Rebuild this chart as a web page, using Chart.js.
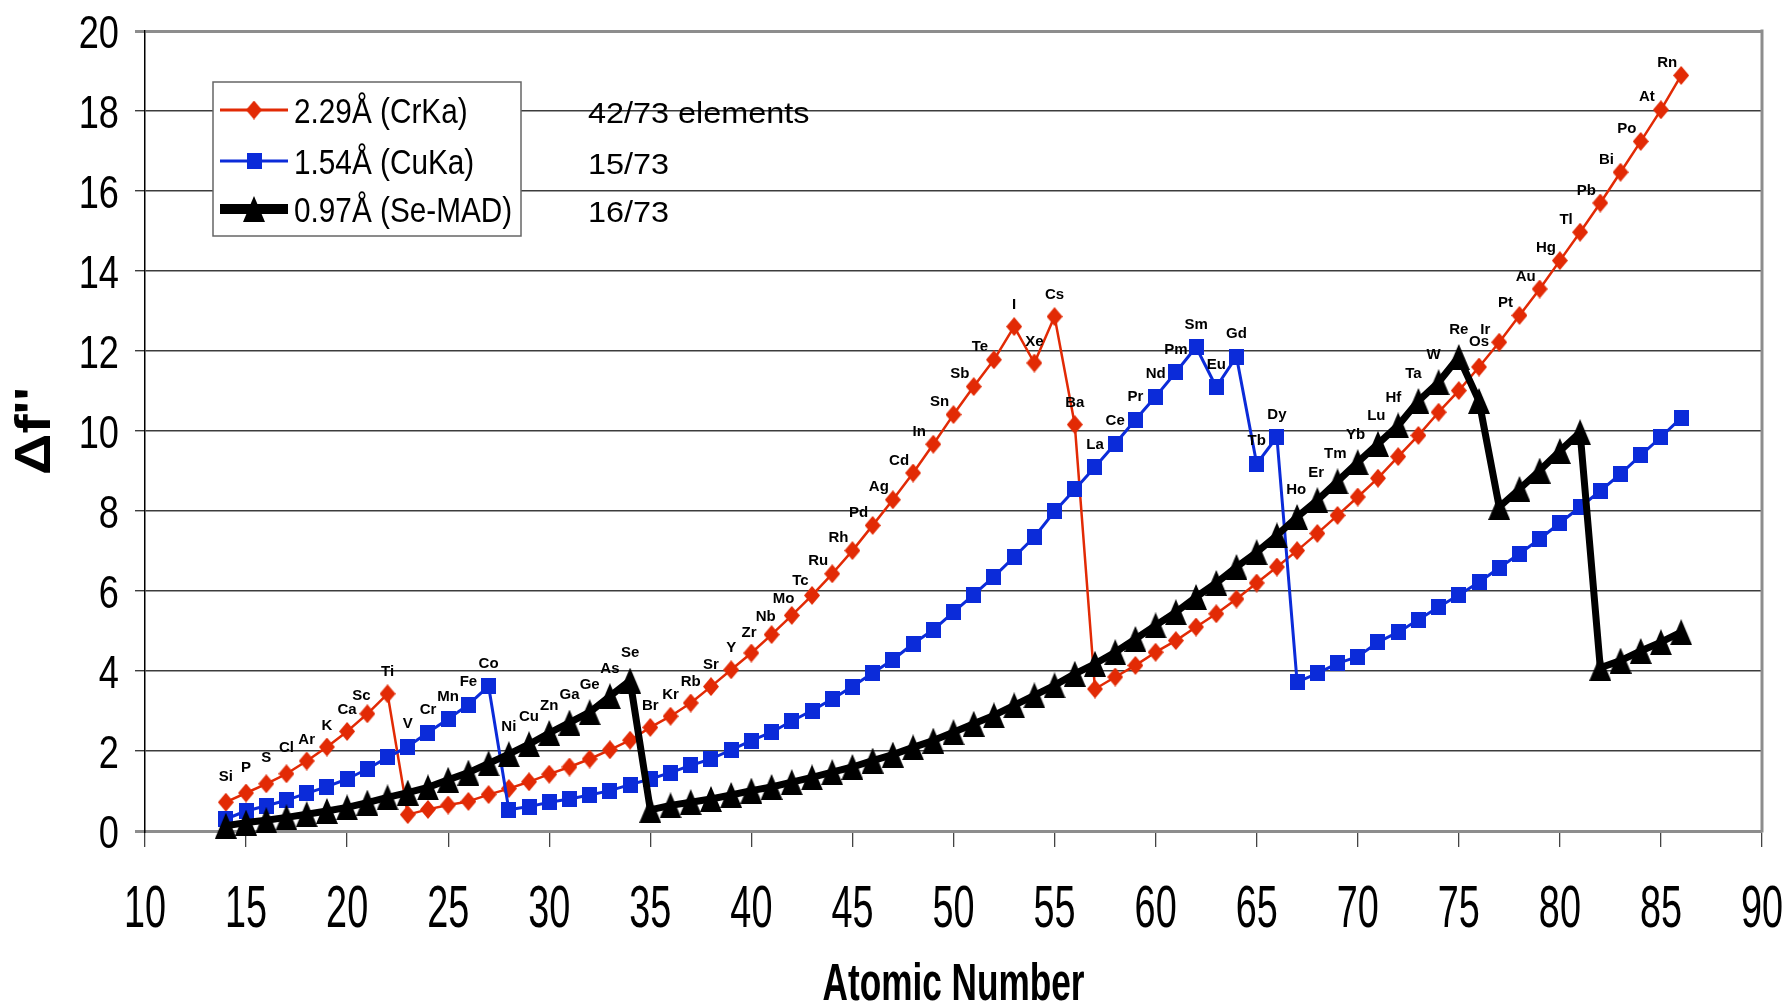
<!DOCTYPE html>
<html>
<head>
<meta charset="utf-8">
<script src="https://cdn.jsdelivr.net/npm/chart.js@4.4.0/dist/chart.umd.min.js"></script>
<style>
html, body { margin: 0; padding: 0; background: #fff; }
#wrap { width: 1788px; height: 1002px; }
</style>
</head>
<body>
<div id="wrap"><canvas id="chart" width="1788" height="1002"></canvas></div>
<script>
// atomic numbers Si (14) .. Rn (86)
const atomicNumbers = [
    14,15,16,17,18,19,20,21,22,23,24,25,26,27,28,29,30,31,32,33,34,35,36,37,38,39,40,
    41,42,43,44,45,46,47,48,49,50,51,52,53,54,55,56,57,58,59,60,61,62,63,64,65,66,67,
    68,69,70,71,72,73,74,75,76,77,78,79,80,81,82,83,84,85,86
];

const symbols = [
    "Si","P","S","Cl","Ar","K","Ca","Sc","Ti","V","Cr","Mn","Fe","Co","Ni","Cu","Zn",
    "Ga","Ge","As","Se","Br","Kr","Rb","Sr","Y","Zr","Nb","Mo","Tc","Ru","Rh","Pd","Ag",
    "Cd","In","Sn","Sb","Te","I","Xe","Cs","Ba","La","Ce","Pr","Nd","Pm","Sm","Eu","Gd",
    "Tb","Dy","Ho","Er","Tm","Yb","Lu","Hf","Ta","W","Re","Os","Ir","Pt","Au","Hg","Tl",
    "Pb","Bi","Po","At","Rn"
];

// delta f'' at 2.29 A (CrKa)
const crKa = [
    0.72,0.95,1.18,1.43,1.75,2.10,2.49,2.93,3.43,
    0.41,0.54,0.65,0.74,0.91,1.06,1.23,1.42,1.60,1.80,2.03,2.27,2.59,2.87,3.20,3.61,
    4.03,4.45,4.91,5.39,5.89,6.43,7.01,7.64,8.28,8.95,9.67,10.41,11.11,11.78,12.61,
    11.70,12.86,10.16,
    3.55,3.85,4.14,4.47,4.76,5.10,5.43,5.80,6.20,6.60,7.01,7.44,7.89,8.35,8.82,9.36,
    9.89,10.47,11.01,11.60,12.22,12.89,13.55,14.26,14.97,15.70,16.47,17.24,18.03,18.89
];

// delta f'' at 1.54 A (CuKa)
const cuKa = [
    0.30,0.50,0.63,0.77,0.94,1.11,1.30,1.55,1.84,2.11,2.46,2.80,3.16,3.62,
    0.53,0.61,0.72,0.80,0.90,1.01,1.16,1.30,1.46,1.64,1.80,2.03,2.26,2.47,2.75,3.01,
    3.30,3.61,3.95,4.28,4.68,5.03,5.47,5.91,6.36,6.85,7.35,7.99,8.54,9.10,9.68,10.28,
    10.86,11.47,12.10,11.10,11.86,9.18,9.85,
    3.72,3.94,4.19,4.36,4.72,4.97,5.28,5.60,5.90,6.22,6.58,6.93,7.30,7.70,8.10,8.50,
    8.93,9.39,9.85,10.33
];

// delta f'' at 0.97 A (Se-MAD)
const seMad = [
    0.13,0.21,0.27,0.34,0.42,0.50,0.59,0.71,0.84,0.96,1.09,1.28,1.46,1.69,1.92,2.17,
    2.45,2.71,2.97,3.37,3.76,
    0.53,0.64,0.72,0.80,0.90,1.01,1.10,1.22,1.34,1.47,1.60,1.76,1.91,2.09,2.26,2.47,
    2.68,2.89,3.14,3.39,3.64,3.93,4.18,4.47,4.80,5.14,5.47,5.85,6.20,6.60,6.97,7.39,
    7.85,8.27,8.74,9.22,9.68,10.14,10.75,11.22,11.85,10.75,
    8.10,8.55,9.01,9.50,9.97,
    4.08,4.26,4.50,4.72,4.97
];

const xTickValues = [10,15,20,25,30,35,40,45,50,55,60,65,70,75,80,85,90];
const yTickValues = [0,2,4,6,8,10,12,14,16,18,20];

const legendLabels = ["2.29Å (CrKa)", "1.54Å (CuKa)", "0.97Å (Se-MAD)"];
const legendNotes = ["42/73 elements", "15/73", "16/73"];

const RED = "#e22a05";
const BLUE = "#0b2bd9";
const BLACK = "#000000";
const FONT = '"Liberation Sans", Arial, sans-serif';

function marker(kind, w, h, color){
    const c = document.createElement("canvas");
    c.width = w;
    c.height = h;
    const g = c.getContext("2d");
    g.fillStyle = color;
    g.beginPath();
    if(kind === "diamond"){
        g.moveTo(w / 2, 0);
        g.lineTo(w, h / 2);
        g.lineTo(w / 2, h);
        g.lineTo(0, h / 2);
    } else if(kind === "square"){
        g.rect(0, 0, w, h);
    } else {
        g.moveTo(w / 2, 0);
        g.lineTo(w, h);
        g.lineTo(0, h);
    }
    g.closePath();
    g.fill();
    return c;
}

const diamondImg = marker("diamond", 16, 19, RED);
const squareImg = marker("square", 15, 16, BLUE);
const triangleImg = marker("triangle", 22, 26, BLACK);

function points(values){
    return atomicNumbers.map((z, i) => ({ x: z, y: values[i] }));
}

// text centred vertically on cy, squeezed/stretched horizontally by sx
function drawText(ctx, text, x, cy, size, weight, sx, align, rot){
    ctx.save();
    ctx.translate(x, cy);
    if(rot) ctx.rotate(rot);
    ctx.scale(sx, 1);
    ctx.font = weight + size + "px " + FONT;
    ctx.textAlign = align;
    ctx.textBaseline = "alphabetic";
    ctx.fillStyle = "#000";
    ctx.fillText(text, 0, size * 0.36);
    ctx.restore();
}

// symbol goes above the highest of the three curves at that element
function labelOffset(i){
    const sets = [crKa, cuKa, seMad];
    let k = 0;
    for(let s = 1; s < 3; s++)
        if(sets[s][i] > sets[k][i]) k = s;
    const arr = sets[k];
    let slope;
    if(i === 0) slope = arr[1] - arr[0];
    else if(i === arr.length - 1) slope = arr[i] - arr[i - 1];
    else slope = (arr[i + 1] - arr[i - 1]) / 2;
    const t = Math.max(0, Math.min(1, (slope - 0.42) / 0.12));
    if(k === 0){
        if(arr[i] - seMad[i] < 1.2) return { v: arr[i], dx: 0, dy: -27 };
        return { v: arr[i], dx: -14 * t, dy: -23 + 9 * t };
    }
    if(k === 1) return { v: arr[i], dx: 0, dy: -24 };
    return { v: arr[i], dx: -5 * t, dy: -29 };
}

const decor = {
    id: "decor",
    beforeDraw(chart){
        const ctx = chart.ctx;
        ctx.save();
        ctx.fillStyle = "#fff";
        ctx.fillRect(0, 0, chart.width, chart.height);
        ctx.restore();
    },
    afterDraw(chart){
        const ctx = chart.ctx;
        const a = chart.chartArea;
        const xs = chart.scales.x;
        const ys = chart.scales.y;

        // right frame
        ctx.save();
        ctx.strokeStyle = "#8d8d8d";
        ctx.lineWidth = 3;
        ctx.beginPath();
        ctx.moveTo(a.right, a.top - 1.5);
        ctx.lineTo(a.right, a.bottom + 1.5);
        ctx.stroke();
        ctx.restore();

        // tick labels
        ys.ticks.forEach(t =>
            drawText(ctx, String(t.value), 119, ys.getPixelForValue(t.value), 47, "", 0.77, "right"));
        xs.ticks.forEach(t =>
            drawText(ctx, String(t.value), xs.getPixelForValue(t.value), 905, 60, "", 0.63, "center"));

        // axis titles
        drawText(ctx, "Atomic Number", (a.left + a.right) / 2, 982, 51, "bold ", 0.69, "center");
        drawText(ctx, "Δf''", 32, (a.top + a.bottom) / 2, 50, "bold ", 1.15, "center", -Math.PI / 2);

        // element symbols
        symbols.forEach((sym, i) => {
            const o = labelOffset(i);
            const px = xs.getPixelForValue(atomicNumbers[i]) + o.dx;
            const py = ys.getPixelForValue(o.v) + o.dy;
            ctx.save();
            ctx.font = "bold 15px " + FONT;
            ctx.textAlign = "center";
            ctx.textBaseline = "alphabetic";
            ctx.fillStyle = "#000";
            ctx.fillText(sym, px, py + 5.5);
            ctx.restore();
        });

        // legend box
        const box = { x: 213, y: 82, w: 308, h: 154 };
        ctx.save();
        ctx.fillStyle = "#fff";
        ctx.fillRect(box.x, box.y, box.w, box.h);
        ctx.strokeStyle = "#666";
        ctx.lineWidth = 1.5;
        ctx.strokeRect(box.x, box.y, box.w, box.h);
        ctx.restore();

        const rows = [110, 161, 209];
        const widths = [3, 3, 10];
        chart.data.datasets.forEach((ds, i) => {
            const y = rows[i];
            ctx.save();
            ctx.strokeStyle = ds.borderColor;
            ctx.lineWidth = widths[i];
            ctx.beginPath();
            ctx.moveTo(220, y);
            ctx.lineTo(288, y);
            ctx.stroke();
            const img = ds.pointStyle;
            ctx.drawImage(img, 254 - img.width / 2, y - img.height / 2);
            ctx.restore();
            drawText(ctx, ds.label, 294, y, 35, "", 0.85, "left");
            drawText(ctx, legendNotes[i], 588, y + 2, 30, "", 1.08, "left");
        });
    }
};

new Chart(document.getElementById("chart"), {
    type: "line",
    data: {
        datasets: [
            {
                label: legendLabels[0],
                data: points(crKa),
                borderColor: RED,
                backgroundColor: RED,
                borderWidth: 2.5,
                pointStyle: diamondImg,
                pointRadius: 8,
                order: 2,
                clip: false
            },
            {
                label: legendLabels[1],
                data: points(cuKa),
                borderColor: BLUE,
                backgroundColor: BLUE,
                borderWidth: 3,
                pointStyle: squareImg,
                pointRadius: 8,
                order: 1,
                clip: false
            },
            {
                label: legendLabels[2],
                data: points(seMad),
                borderColor: BLACK,
                backgroundColor: BLACK,
                borderWidth: 7,
                pointStyle: triangleImg,
                pointRadius: 10,
                order: 0,
                clip: false
            }
        ]
    },
    options: {
        responsive: false,
        animation: false,
        events: [],
        layout: { padding: { left: 0, right: 26, top: 31, bottom: 0 } },
        elements: { line: { tension: 0, borderJoinStyle: "round" } },
        plugins: {
            legend: { display: false },
            title: { display: false },
            tooltip: { enabled: false }
        },
        scales: {
            x: {
                type: "linear",
                min: 10,
                max: 90,
                afterBuildTicks: s => { s.ticks = xTickValues.map(v => ({ value: v })); },
                afterFit: s => { s.height = 171; },
                ticks: { display: false },
                grid: {
                    drawOnChartArea: false,
                    drawTicks: true,
                    tickLength: 16,
                    color: "#444",
                    lineWidth: 1.3
                },
                border: { display: true, color: "#8d8d8d", width: 3 }
            },
            y: {
                type: "linear",
                min: 0,
                max: 20,
                afterBuildTicks: s => { s.ticks = yTickValues.map(v => ({ value: v })); },
                afterFit: s => { s.width = 145; },
                ticks: { display: false },
                grid: {
                    drawTicks: true,
                    tickLength: 10,
                    color: c => (c.tick && (c.tick.value === 0 || c.tick.value === 20)) ? "#8d8d8d" : "#3c3c3c",
                    lineWidth: c => (c.tick && (c.tick.value === 0 || c.tick.value === 20)) ? 3 : 1.4
                },
                border: { display: true, color: "#000", width: 1.5 }
            }
        }
    },
    plugins: [decor]
});
</script>
</body>
</html>
